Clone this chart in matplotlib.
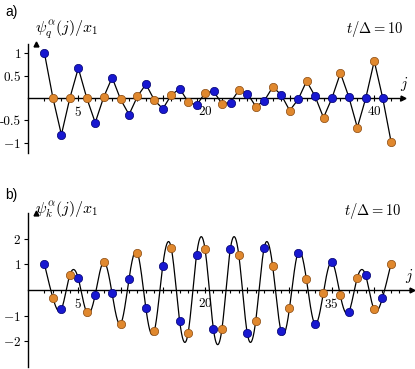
import numpy as np
import matplotlib
matplotlib.use("Agg")
import matplotlib.pyplot as plt
from matplotlib.ticker import FixedLocator, FixedFormatter

plt.rcParams['mathtext.fontset'] = 'cm'
plt.rcParams['font.family'] = ['DejaVu Sans']

# ---------------- data ----------------
j_a = np.arange(1, 43)
psi_q = [1.00, 0.00, -0.82, 0.00, 0.67, 0.00, -0.55, 0.02, 0.46, -0.03,
         -0.37, 0.04, 0.31, -0.05, -0.24, 0.07, 0.21, -0.09, -0.16, 0.12,
         0.15, -0.13, -0.10, 0.18, 0.10, -0.19, -0.06, 0.25, 0.07, -0.28,
         -0.03, 0.38, 0.04, -0.44, 0.00, 0.56, 0.02, -0.66, 0.00, 0.83,
         0.00, -0.99]

j_b = np.arange(1, 43)
psi_k = [1.00, -0.31, -0.75, 0.58, 0.45, -0.87, -0.19, 1.09, -0.13, -1.32,
         0.42, 1.45, -0.71, -1.60, 0.95, 1.64, -1.21, -1.68, 1.36, 1.60,
         -1.53, -1.53, 1.60, 1.36, -1.68, -1.21, 1.64, 0.95, -1.60, -0.71,
         1.45, 0.42, -1.32, -0.13, 1.09, -0.19, -0.87, 0.45, 0.58, -0.75,
         -0.31, 1.00]

a_yticks = [-1, -0.5, 0.5, 1]
a_yticklabels = ['$-1$', '-0.5', '$0.5$', '$1$']
b_yticks = [-2, -1, 1, 2]
b_yticklabels = ['$-2$', '$-1$', '$1$', '$2$']
a_xlabeled = {5: '$5$', 20: '$20$', 40: '$40$'}
b_xlabeled = {5: '$5$', 20: '$20$', 35: '$35$'}
major_x = list(range(5, 45, 5))
minor_x = list(range(1, 44))

BLUE, BLUE_E = '#1818d0', '#00006e'
ORANGE, ORANGE_E = '#e0882e', '#8a4a10'


def natural_spline(x, y, xs):
    x = np.asarray(x, float); y = np.asarray(y, float)
    n = len(x)
    h = np.diff(x)
    A = np.zeros((n, n)); r = np.zeros(n)
    A[0, 0] = A[-1, -1] = 1
    for i in range(1, n - 1):
        A[i, i - 1] = h[i - 1]
        A[i, i] = 2 * (h[i - 1] + h[i])
        A[i, i + 1] = h[i]
        r[i] = 3 * ((y[i + 1] - y[i]) / h[i] - (y[i] - y[i - 1]) / h[i - 1])
    c = np.linalg.solve(A, r)
    b = (y[1:] - y[:-1]) / h - h * (2 * c[:-1] + c[1:]) / 3
    d = (c[1:] - c[:-1]) / (3 * h)
    idx = np.clip(np.searchsorted(x, xs) - 1, 0, n - 2)
    t = xs - x[idx]
    return y[idx] + b[idx] * t + c[idx] * t ** 2 + d[idx] * t ** 3


fig = plt.figure(figsize=(4.15, 3.69), dpi=100)
W, H = 415, 369


def make_ax(left, top, right, bottom):
    return fig.add_axes([left / W, 1 - bottom / H, (right - left) / W, (bottom - top) / H])


def style(ax, xlim, ylim, yticks, yticklabels, xlabeled):
    ax.set_xlim(*xlim); ax.set_ylim(*ylim)
    ax.patch.set_alpha(0)
    for s in ['top', 'right']:
        ax.spines[s].set_visible(False)
    ax.spines['bottom'].set_position(('data', 0))
    for s in ['left', 'bottom']:
        ax.spines[s].set_linewidth(1.0)
    ax.plot(1, 0, marker='>', color='k', ms=3.5, transform=ax.get_yaxis_transform(), clip_on=False)
    ax.plot(0, 1, marker='^', color='k', ms=3.5, transform=ax.get_xaxis_transform(), clip_on=False)
    ax.set_yticks(yticks)
    ax.set_yticklabels(yticklabels)
    for lab in ax.get_yticklabels():
        if not lab.get_text().startswith('$'):
            lab.set_fontfamily('cmr10')
    ax.tick_params(axis='y', direction='out', length=3, width=0.8, labelsize=9.5, pad=2)
    ax.xaxis.set_major_locator(FixedLocator(major_x))
    ax.xaxis.set_major_formatter(FixedFormatter([xlabeled.get(v, '') for v in major_x]))
    ax.xaxis.set_minor_locator(FixedLocator(minor_x))
    ax.tick_params(axis='x', which='major', direction='inout', length=5, width=0.8, labelsize=9.5, pad=2.5)
    ax.tick_params(axis='x', which='minor', direction='out', length=2.2, width=0.8)


# ---------- panel a ----------
axa = make_ax(28, 44, 403, 153)
style(axa, (-0.95, 43.4), (-1.23, 1.21), a_yticks, a_yticklabels, a_xlabeled)
axa.plot(j_a, psi_q, color='k', lw=0.9, zorder=3)
ja = np.array(j_a); qa = np.array(psi_q)
odd = ja % 2 == 1
axa.plot(ja[odd], qa[odd], 'o', color=BLUE, mec=BLUE_E, mew=0.5, ms=6, zorder=4, clip_on=False)
axa.plot(ja[~odd], qa[~odd], 'o', color=ORANGE, mec=ORANGE_E, mew=0.5, ms=6, zorder=4, clip_on=False)

# ---------- panel b ----------
axb = make_ax(28, 213, 412, 367)
style(axb, (-0.95, 44.5), (-3.0, 3.0), b_yticks, b_yticklabels, b_xlabeled)
xs = np.linspace(j_b[0], j_b[-1], 1500)
axb.plot(xs, natural_spline(j_b, psi_k, xs), color='k', lw=0.9, zorder=3)
jb = np.array(j_b); kb = np.array(psi_k)
odd = jb % 2 == 1
axb.plot(jb[odd], kb[odd], 'o', color=BLUE, mec=BLUE_E, mew=0.5, ms=6, zorder=4, clip_on=False)
axb.plot(jb[~odd], kb[~odd], 'o', color=ORANGE, mec=ORANGE_E, mew=0.5, ms=6, zorder=4, clip_on=False)

# ---------- texts ----------
def ftext(x, y, s, **kw):
    fig.text(x / W, 1 - y / H, s, **kw)

ftext(5, 12, 'a)', fontsize=10, va='center', ha='left', family='Liberation Sans')
ftext(5, 195, 'b)', fontsize=10, va='center', ha='left', family='Liberation Sans')
ftext(35, 29, r'$\psi_q^{\alpha}(j)/x_1$', fontsize=11.5, va='center', ha='left')
ftext(35, 210, r'$\psi_k^{\alpha}(j)/x_1$', fontsize=11.5, va='center', ha='left')
ftext(403, 29, r'$t/\Delta = 10$', fontsize=10.5, va='center', ha='right')
ftext(401, 211, r'$t/\Delta = 10$', fontsize=10.5, va='center', ha='right')
ftext(404, 84, r'$j$', fontsize=11, va='center', ha='center')
ftext(409, 276, r'$j$', fontsize=11, va='center', ha='center')

fig.savefig('out.png', dpi=100)
